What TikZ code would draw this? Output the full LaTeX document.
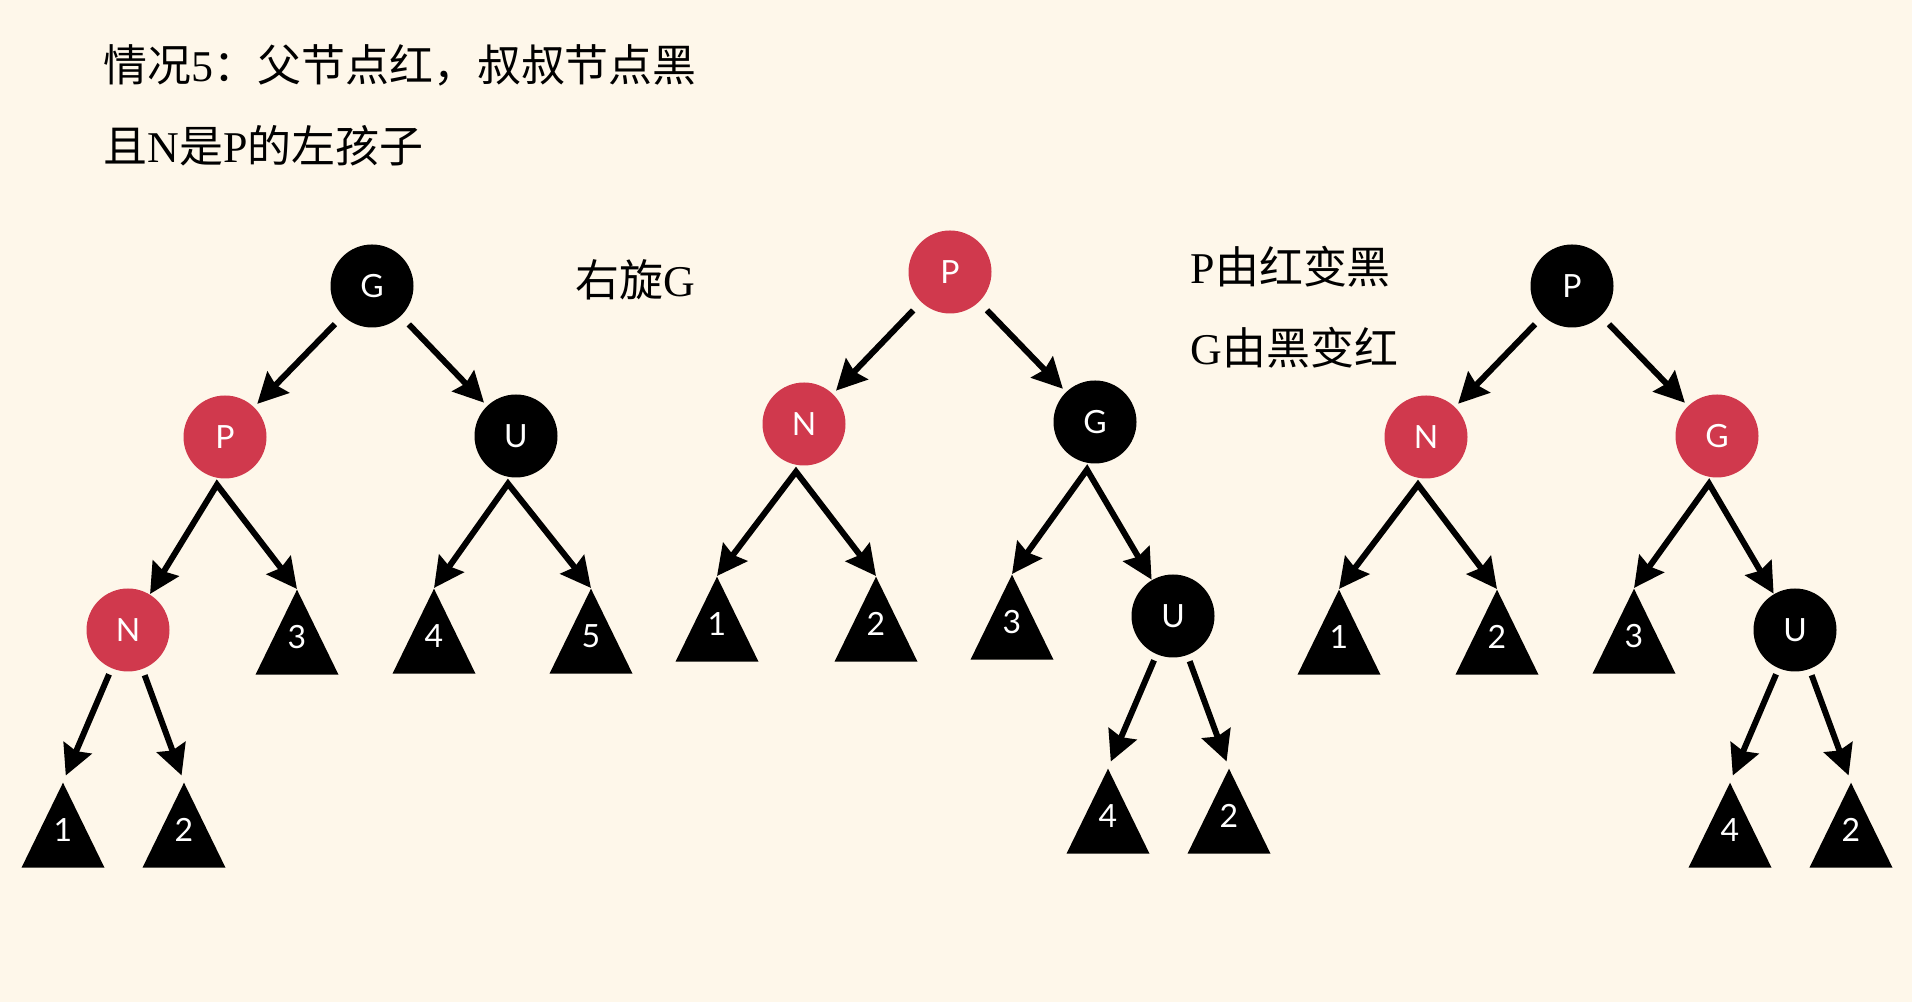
\documentclass[tikz,border=0pt]{standalone}
\usepackage{fontspec}
\setmainfont{Liberation Serif}
\newfontfamily\cjkfont{Noto Sans CJK SC}
\newfontfamily\keyfont{Lato}
\newcommand{\zh}[1]{{\cjkfont #1}}
\usetikzlibrary{arrows.meta}
\definecolor{cPaper}{RGB}{254,247,234}
\definecolor{cRed}{RGB}{208,57,77}
\definecolor{cInk}{RGB}{0,0,0}

\begin{document}
\begin{tikzpicture}[
  x=0.1mm, y=-0.1mm,
  >={Stealth[length=3mm,width=3mm,inset=0.35mm]},
  note/.style   ={anchor=west, inner sep=0pt, text=cInk,
                  font=\fontsize{12.5pt}{14pt}\selectfont},
  vtx/.style    ={circle, minimum size=8.3mm, inner sep=0pt, text=white,
                  font=\keyfont\fontsize{9.1pt}{10pt}\selectfont},
  rednode/.style={vtx, fill=cRed},
  blknode/.style={vtx, fill=cInk},
  subtree/.style={rectangle, anchor=north, minimum width=8.3mm,
                  minimum height=8.5mm, inner sep=0pt, text=white,
                  text height=3.3mm, text depth=0pt,
                  font=\keyfont\fontsize{9.1pt}{10pt}\selectfont,
                  path picture={\fill[cInk] (path picture bounding box.north)
                    -- (path picture bounding box.south west)
                    -- (path picture bounding box.south east) -- cycle;}},
  link/.style    ={->, line width=0.6mm, draw=cInk},
  rootlink/.style={link, shorten <=1.1mm, shorten >=0.4mm},
  leaflink/.style={link, shorten <=0.6mm, shorten >=0.7mm},
  forklink/.style={<->, line width=0.6mm, draw=cInk},
]

\fill[cPaper] (0,0) rectangle (1912,1002);
\useasboundingbox (0,0) rectangle (1912,1002);

% titles and steps
\node[note] (case) at (103,65)   {\zh{情况}5\zh{：父节点红，叔叔节点黑}};
\node[note] (cond) at (103,146)  {\zh{且}N\zh{是}P\zh{的左孩子}};
\node[note] (rot)  at (575,280)  {\zh{右旋}G};
\node[note] (recP) at (1190,267) {P\zh{由红变黑}};
\node[note] (recG) at (1190,348) {G\zh{由黑变红}};

% ----- before: red N under red P, black uncle U -------------------------
\node[blknode] (Ga)  at (372,286) {G};
\node[rednode] (Pa)  at (225,437) {P};
\node[blknode] (Ua)  at (516,436) {U};
\node[rednode] (Na)  at (128,630) {N};
\node[subtree] (ta1) at (63,782)  {1};
\node[subtree] (ta2) at (184,782) {2};
\node[subtree] (ta3) at (297,589) {3};
\node[subtree] (ta4) at (434,588) {4};
\node[subtree] (ta5) at (591,588) {5};
\coordinate (Pa-fork) at ([xshift=-0.8mm,yshift=-0.55mm]Pa.south);
\coordinate (Ua-fork) at ([xshift=-0.8mm,yshift=-0.55mm]Ua.south);

\draw[rootlink] (Ga) -- (Pa);
\draw[rootlink] (Ga) -- (Ua);
\draw[forklink] (Na) -- (Pa-fork) -- (ta3.north);
\draw[forklink] (ta4.north) -- (Ua-fork) -- (ta5.north);
\draw[leaflink] (Na) -- (ta1.north);
\draw[leaflink] (Na) -- (ta2.north);

% ----- after the right rotation at G -------------------------------------
\node[rednode] (Pb)  at (950,272)  {P};
\node[rednode] (Nb)  at (804,424)  {N};
\node[blknode] (Gb)  at (1095,422) {G};
\node[blknode] (Ub)  at (1173,616) {U};
\node[subtree] (tb1) at (717,576)  {1};
\node[subtree] (tb2) at (876,576)  {2};
\node[subtree] (tb3) at (1012,574) {3};
\node[subtree] (tb4) at (1108,768) {4};
\node[subtree] (tb5) at (1229,768) {2};
\coordinate (Nb-fork) at ([xshift=-0.8mm,yshift=-0.55mm]Nb.south);
\coordinate (Gb-fork) at ([xshift=-0.8mm,yshift=-0.55mm]Gb.south);

\draw[rootlink] (Pb) -- (Nb);
\draw[rootlink] (Pb) -- (Gb);
\draw[forklink] (tb1.north) -- (Nb-fork) -- (tb2.north);
\draw[forklink] (tb3.north) -- (Gb-fork) -- (Ub);
\draw[leaflink] (Ub) -- (tb4.north);
\draw[leaflink] (Ub) -- (tb5.north);

% ----- after recolouring P and G ------------------------------------------
\node[blknode] (Pc)  at (1572,286) {P};
\node[rednode] (Nc)  at (1426,437) {N};
\node[rednode] (Gc)  at (1717,436) {G};
\node[blknode] (Uc)  at (1795,630) {U};
\node[subtree] (tc1) at (1339,589) {1};
\node[subtree] (tc2) at (1497,589) {2};
\node[subtree] (tc3) at (1634,588) {3};
\node[subtree] (tc4) at (1730,782) {4};
\node[subtree] (tc5) at (1851,782) {2};
\coordinate (Nc-fork) at ([xshift=-0.8mm,yshift=-0.55mm]Nc.south);
\coordinate (Gc-fork) at ([xshift=-0.8mm,yshift=-0.55mm]Gc.south);

\draw[rootlink] (Pc) -- (Nc);
\draw[rootlink] (Pc) -- (Gc);
\draw[forklink] (tc1.north) -- (Nc-fork) -- (tc2.north);
\draw[forklink] (tc3.north) -- (Gc-fork) -- (Uc);
\draw[leaflink] (Uc) -- (tc4.north);
\draw[leaflink] (Uc) -- (tc5.north);

\end{tikzpicture}
\end{document}
